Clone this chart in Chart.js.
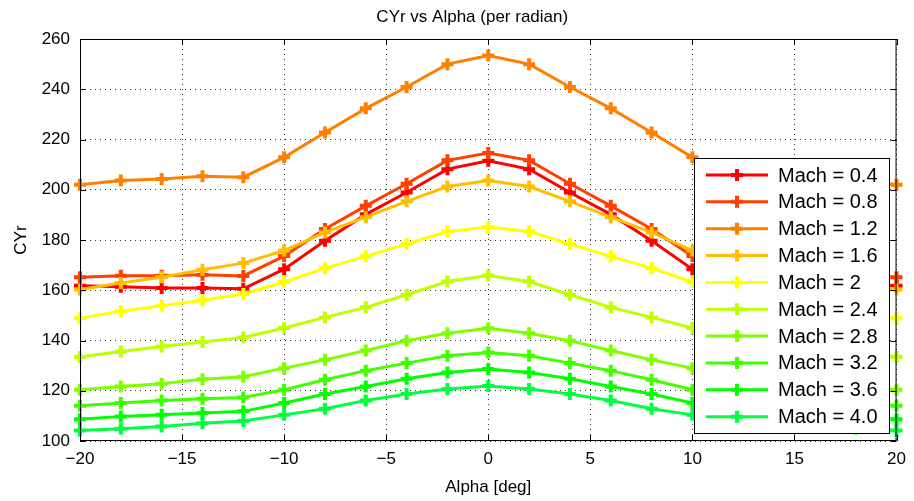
<!DOCTYPE html>
<html lang="en">
<head>
<meta charset="utf-8" />
<title>CYr vs Alpha (per radian)</title>
<script src="https://cdn.jsdelivr.net/npm/chart.js@4.4.1/dist/chart.umd.min.js"></script>
<style>
  html, body { margin: 0; padding: 0; background: #fff; }
  #wrap { width: 914px; height: 501px; position: relative; }
</style>
</head>
<body>
<div id="wrap"><canvas id="c" width="914" height="501"></canvas></div>
<script>
const alpha = [-20, -18, -16, -14, -12, -10, -8, -6, -4, -2, 0, 2, 4, 6, 8, 10, 12, 14, 16, 18, 20];
const machLabels = ['Mach = 0.4', 'Mach = 0.8', 'Mach = 1.2', 'Mach = 1.6', 'Mach = 2',
  'Mach = 2.4', 'Mach = 2.8', 'Mach = 3.2', 'Mach = 3.6', 'Mach = 4.0'];
const machColors = ['#ff0000', '#ff4000', '#ff8000', '#ffbf00', '#ffff00',
  '#bfff00', '#80ff00', '#40ff00', '#00ff00', '#00ff40'];

const m04 = [161.8, 161.4, 160.9, 160.9, 160.6, 168.4, 179.7, 190.2, 198.9, 208.2, 211.5, 208.2, 198.9, 190.2, 179.7, 168.4, 160.6, 160.9, 160.9, 161.4, 161.8];
const m08 = [165.2, 165.8, 165.8, 166.2, 165.7, 173.6, 184.4, 193.6, 202.4, 211.7, 214.6, 211.7, 202.4, 193.6, 184.4, 173.6, 165.7, 166.2, 165.8, 165.8, 165.2];
const m12 = [202.0, 203.7, 204.3, 205.4, 205.0, 212.9, 222.8, 232.4, 240.9, 250.0, 253.4, 250.0, 240.9, 232.4, 222.8, 212.9, 205.0, 205.4, 204.3, 203.7, 202.0];
const m16 = [160.3, 162.9, 165.2, 168.2, 170.8, 175.8, 183.0, 189.1, 195.4, 201.3, 203.7, 201.3, 195.4, 189.1, 183.0, 175.8, 170.8, 168.2, 165.2, 162.9, 160.3];
const m20 = [148.9, 151.6, 153.8, 156.0, 158.5, 163.3, 168.8, 173.5, 178.4, 183.4, 185.2, 183.4, 178.4, 173.5, 168.8, 163.3, 158.5, 156.0, 153.8, 151.6, 148.9];
const m24 = [133.4, 135.6, 137.6, 139.4, 141.2, 145.0, 149.2, 153.2, 158.2, 163.5, 165.9, 163.5, 158.2, 153.2, 149.2, 145.0, 141.2, 139.4, 137.6, 135.6, 133.4];
const m28 = [120.4, 121.7, 122.8, 124.6, 125.6, 129.0, 132.3, 136.0, 139.9, 142.9, 144.9, 142.9, 139.9, 136.0, 132.3, 129.0, 125.6, 124.6, 122.8, 121.7, 120.4];
const m32 = [114.0, 115.1, 116.1, 116.8, 117.3, 120.4, 124.4, 128.0, 131.0, 133.9, 135.2, 133.9, 131.0, 128.0, 124.4, 120.4, 117.3, 116.8, 116.1, 115.1, 114.0];
const m36 = [108.7, 109.8, 110.4, 111.1, 111.8, 115.1, 118.7, 121.7, 124.8, 127.3, 128.7, 127.3, 124.8, 121.7, 118.7, 115.1, 111.8, 111.1, 110.4, 109.8, 108.7];
const m40 = [104.2, 104.9, 105.8, 107.1, 108.0, 110.4, 112.8, 116.1, 118.7, 120.7, 121.9, 120.7, 118.7, 116.1, 112.8, 110.4, 108.0, 107.1, 105.8, 104.9, 104.2];
const series = [m04, m08, m12, m16, m20, m24, m28, m32, m36, m40];

const xTicks = [-20, -15, -10, -5, 0, 5, 10, 15, 20];
const yTicks = [100, 120, 140, 160, 180, 200, 220, 240, 260];

const FONT = '"Liberation Sans", Arial, Helvetica, sans-serif';

const datasets = series.map((vals, i) => ({
  label: machLabels[i],
  data: alpha.map((a, j) => ({ x: a, y: vals[j] })),
  borderColor: machColors[i],
  backgroundColor: machColors[i],
  borderWidth: 3,
  pointStyle: 'cross',
  pointRadius: 6,
  pointBorderWidth: 4,
  pointHoverRadius: 6,
  tension: 0,
  clip: false,
  order: series.length - i, // later Mach numbers on top, like the original plot
}));

// box, inward ticks, titles and legend, drawn like the MATLAB figure
const decor = {
  id: 'decor',
  afterDraw(chart) {
    const { ctx, chartArea: a, scales } = chart;
    ctx.save();
    ctx.strokeStyle = '#000';
    ctx.lineWidth = 1;
    ctx.strokeRect(a.left + 0.5, a.top + 0.5, a.right - a.left - 1, a.bottom - a.top - 1);
    ctx.beginPath();
    for (const v of xTicks) {
      const px = Math.round(scales.x.getPixelForValue(v)) + 0.5;
      ctx.moveTo(px, a.bottom); ctx.lineTo(px, a.bottom - 6);
      ctx.moveTo(px, a.top); ctx.lineTo(px, a.top + 6);
    }
    for (const v of yTicks) {
      const py = Math.round(scales.y.getPixelForValue(v)) + 0.5;
      ctx.moveTo(a.left, py); ctx.lineTo(a.left + 6, py);
      ctx.moveTo(a.right, py); ctx.lineTo(a.right - 6, py);
    }
    ctx.stroke();

    ctx.fillStyle = '#000';
    ctx.font = '17px ' + FONT;
    ctx.textAlign = 'center';
    ctx.textBaseline = 'middle';
    ctx.fillText('CYr vs Alpha (per radian)', (a.left + a.right) / 2 - 16, 17);
    ctx.fillText('Alpha [deg]', (a.left + a.right) / 2, 487);
    ctx.save();
    ctx.translate(21, (a.top + a.bottom) / 2);
    ctx.rotate(-Math.PI / 2);
    ctx.fillText('CYr', 0, 0);
    ctx.restore();

    // legend
    const lx = 694, ly = 158, lw = 195, lh = 275, rowH = 26.85;
    ctx.fillStyle = '#fff';
    ctx.fillRect(lx, ly, lw, lh);
    ctx.strokeStyle = '#000';
    ctx.strokeRect(lx + 0.5, ly + 0.5, lw, lh);
    ctx.font = '20px ' + FONT;
    ctx.textAlign = 'left';
    machLabels.forEach((lab, i) => {
      const y = 175 + i * rowH;
      ctx.strokeStyle = machColors[i];
      ctx.lineWidth = 3;
      ctx.beginPath();
      ctx.moveTo(706, y); ctx.lineTo(768, y);
      ctx.stroke();
      ctx.lineWidth = 4;
      ctx.beginPath();
      ctx.moveTo(737, y - 6); ctx.lineTo(737, y + 6);
      ctx.moveTo(731, y); ctx.lineTo(743, y);
      ctx.stroke();
      ctx.fillStyle = '#000';
      ctx.fillText(lab, 778, y + 1);
    });
    ctx.restore();
  },
};

new Chart(document.getElementById('c'), {
  type: 'line',
  data: { datasets },
  options: {
    responsive: false,
    animation: false,
    events: [],
    layout: { padding: { top: 39, right: 17, left: 0, bottom: 0 } },
    plugins: { legend: { display: false }, tooltip: { enabled: false }, title: { display: false } },
    scales: {
      x: {
        type: 'linear', min: -20, max: 20,
        afterFit: (s) => { s.height = 60; },
        afterBuildTicks: (s) => { s.ticks = xTicks.map((v) => ({ value: v })); },
        ticks: {
          color: '#000', font: { family: FONT, size: 17 }, padding: 8,
          callback: (v) => (v < 0 ? '\u2212' + Math.abs(v) : String(v)),
        },
        grid: { color: '#333', lineWidth: 1, drawTicks: false },
        border: { display: false, dash: [1, 4] },
      },
      y: {
        min: 100, max: 260,
        afterFit: (s) => { s.width = 80; },
        afterBuildTicks: (s) => { s.ticks = yTicks.map((v) => ({ value: v })); },
        ticks: { color: '#000', font: { family: FONT, size: 17 }, padding: 10 },
        grid: { color: '#333', lineWidth: 1, drawTicks: false },
        border: { display: false, dash: [1, 4] },
      },
    },
  },
  plugins: [decor],
});
</script>
</body>
</html>
